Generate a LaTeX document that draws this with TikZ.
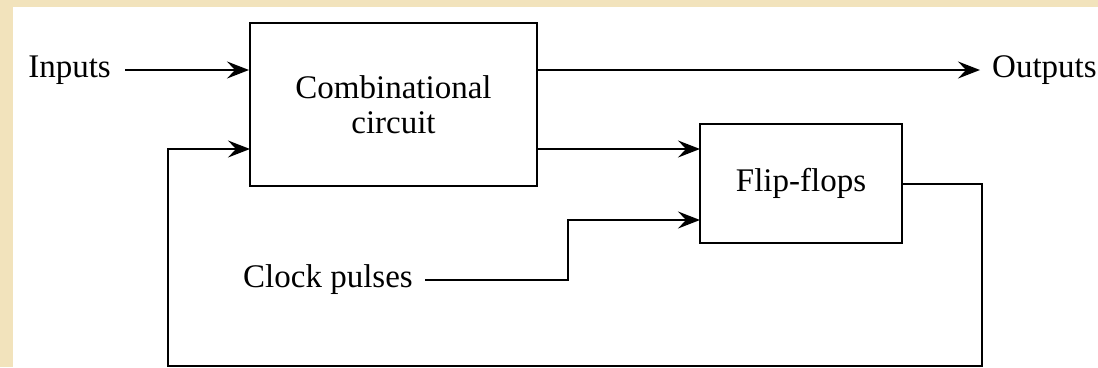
\documentclass[tikz,border=0pt]{standalone}
\usepackage{fontspec}
\setmainfont{Liberation Serif}
\usepackage{tikz}
\usetikzlibrary{arrows.meta, positioning, calc}
\definecolor{paper}{RGB}{242,227,188}
\tikzset{>={Stealth[length=22pt, width=17pt, inset=8pt]}}
\tikzset{
  block/.style={draw, line width=2pt, inner sep=0pt},
  wire/.style={line width=2pt},
  lbl/.style={inner sep=0pt}
}

\begin{document}
\begin{tikzpicture}[x=1pt, y=-1pt, font=\fontsize{33}{35}\selectfont]
      \fill[paper] (0, 0) rectangle (1098, 367);
      \fill[white] (13, 7) rectangle (1098, 367);
      \useasboundingbox (0, 0) rectangle (1098, 367);
      \node[block, minimum width=287pt, minimum height=163pt, align=center] (comb) at (393.5, 104.5) {Combinational\\circuit};
      \node[block, minimum width=202pt, minimum height=119pt] (ff) at (801, 183.5) {Flip-flops};
      \node[lbl, anchor=east, inner xsep=14pt] (inputs) at (125, 70) {Inputs};
      \node[lbl, anchor=west, inner xsep=12pt] (outputs) at (980, 70) {Outputs};
      \node[lbl, anchor=east, inner xsep=12pt] (clock) at (425, 280) {Clock pulses};
      \coordinate (back) at (250, 149);
      \coordinate (ffd) at (700, 149);
      \coordinate (ffclk) at (700, 220);
      \draw[wire, ->] (inputs.east) to (inputs -| comb.west);
      \draw[wire, ->] (comb.east |- outputs) to (outputs.west);
      \draw[wire, ->] (comb.east |- ffd) to (ffd);
      \draw[wire, ->] (clock.east) -- (568, 280) -- (568, 220) -- (ffclk);
      \draw[wire, ->] (ff.east) -- (982, 183.5) -- (982, 366) -- (168, 366) -- (168, 149) -- (back);
    \end{tikzpicture}
\end{document}
